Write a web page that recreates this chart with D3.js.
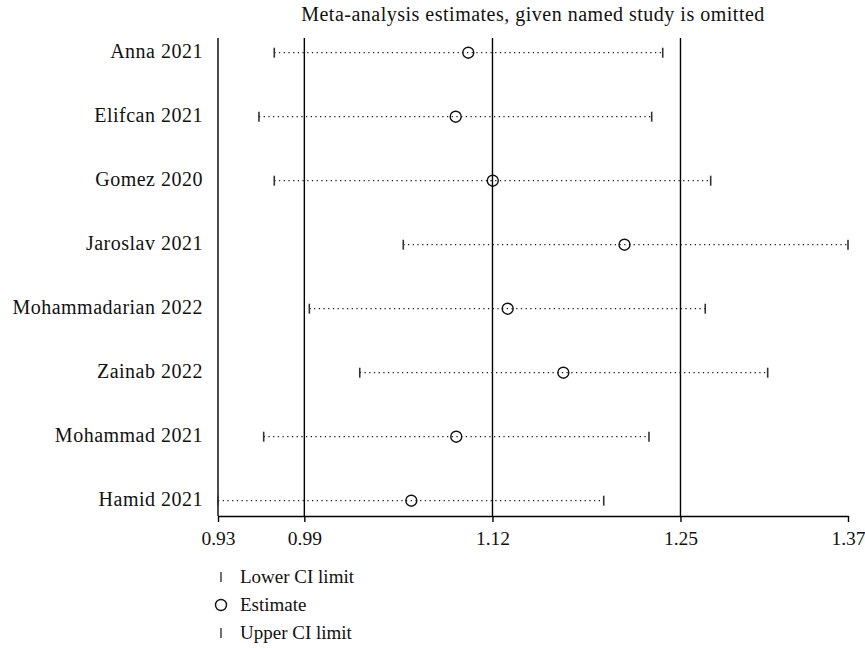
<!DOCTYPE html>
<html>
<head>
<meta charset="utf-8">
<script src="https://cdn.jsdelivr.net/npm/d3@7"></script>
<style>
  html, body { margin: 0; padding: 0; background: #fff; }
  svg { display: block; font-family: "Liberation Serif", "DejaVu Serif", serif; }
</style>
</head>
<body>
<svg id="chart" width="865" height="648"></svg>
<script>
// ---- data ----
const studies = ["Anna 2021", "Elifcan 2021", "Gomez 2020", "Jaroslav 2021",
  "Mohammadarian 2022", "Zainab 2022", "Mohammad 2021", "Hamid 2021"];
const lowerCI  = [0.9703, 0.9596, 0.9703, 1.0604, 0.9948, 1.0300, 0.9629, 0.9310];
const estimate = [1.1058, 1.0970, 1.1229, 1.2149, 1.1333, 1.1722, 1.0974, 1.0660];
const upperCI  = [1.2416, 1.2339, 1.2751, 1.3710, 1.2713, 1.3149, 1.2320, 1.2004];
// axis ticks: min lower, overall lower CI, overall estimate, overall upper CI, max upper
const tickValues = [0.931, 0.9913, 1.1227, 1.2540, 1.371];
const tickLabels = ["0.93", "0.99", "1.12", "1.25", "1.37"];
const refLines = [0.9913, 1.1227, 1.2540];
const titleText = "Meta-analysis estimates, given named study is omitted";
const legendItems = ["Lower CI limit", "Estimate", "Upper CI limit"];

const svg = d3.select("#chart");
const FS = 19;
const plotLeft = 218, plotRight = 848, plotTop = 38, axisY = 516;

const x = d3.scaleLinear().domain([tickValues[0], tickValues[4]]).range([plotLeft, plotRight]);
const y = d3.scalePoint().domain(studies).range([52.7, 500.7]);

// title
svg.append("text")
  .attr("x", (plotLeft + plotRight) / 2).attr("y", 21)
  .attr("text-anchor", "middle").attr("font-size", 20).attr("letter-spacing", 0.5)
  .attr("fill", "#111")
  .text(titleText);

// left vertical (y axis line)
svg.append("line")
  .attr("x1", plotLeft).attr("x2", plotLeft).attr("y1", plotTop).attr("y2", axisY)
  .attr("stroke", "#000").attr("stroke-width", 1.4);

// reference lines
svg.selectAll("line.ref").data(refLines).join("line").attr("class", "ref")
  .attr("x1", d => x(d)).attr("x2", d => x(d))
  .attr("y1", plotTop).attr("y2", axisY)
  .attr("stroke", "#000").attr("stroke-width", 1.4);

// study labels
svg.selectAll("text.lab").data(studies).join("text").attr("class", "lab")
  .attr("x", 203).attr("y", d => y(d) + 5)
  .attr("text-anchor", "end").attr("font-size", 20).attr("letter-spacing", 0.5)
  .attr("fill", "#111")
  .text(d => d);

const rows = studies.map((s, i) => ({ s, lo: lowerCI[i], est: estimate[i], hi: upperCI[i] }));

// dotted CI lines
svg.selectAll("line.ci").data(rows).join("line").attr("class", "ci")
  .attr("x1", d => x(d.lo)).attr("x2", d => x(d.hi))
  .attr("y1", d => y(d.s)).attr("y2", d => y(d.s))
  .attr("stroke", "#222").attr("stroke-width", 1.2)
  .attr("stroke-dasharray", "1.3,3.4");

// CI end ticks
["lo", "hi"].forEach(k => {
  svg.selectAll("line.t" + k).data(rows).join("line").attr("class", "t" + k)
    .attr("x1", d => x(d[k])).attr("x2", d => x(d[k]))
    .attr("y1", d => y(d.s) - 5).attr("y2", d => y(d.s) + 5)
    .attr("stroke", "#333").attr("stroke-width", 1.6);
});

// estimates
svg.selectAll("circle.est").data(rows).join("circle").attr("class", "est")
  .attr("cx", d => x(d.est)).attr("cy", d => y(d.s)).attr("r", 5.5)
  .attr("fill", "none").attr("stroke", "#111").attr("stroke-width", 1.4);

// x axis
const axis = d3.axisBottom(x).tickValues(tickValues)
  .tickFormat((d, i) => tickLabels[i]).tickSize(6).tickSizeOuter(0).tickPadding(9);
const gx = svg.append("g").attr("transform", `translate(0,${axisY})`).call(axis);
gx.select(".domain").attr("stroke", "#000").attr("stroke-width", 1.4);
gx.selectAll(".tick line").attr("stroke", "#000").attr("stroke-width", 1.4);
gx.selectAll(".tick text").attr("font-size", 19.5).attr("fill", "#111")
  .attr("font-family", "Liberation Serif, DejaVu Serif, serif");

// legend
const ly = [577, 605, 633];
const lx = 221;
svg.append("line").attr("x1", lx).attr("x2", lx).attr("y1", ly[0] - 5).attr("y2", ly[0] + 5)
  .attr("stroke", "#333").attr("stroke-width", 1.4);
svg.append("circle").attr("cx", lx).attr("cy", ly[1]).attr("r", 5.5)
  .attr("fill", "none").attr("stroke", "#111").attr("stroke-width", 1.4);
svg.append("line").attr("x1", lx).attr("x2", lx).attr("y1", ly[2] - 5).attr("y2", ly[2] + 5)
  .attr("stroke", "#333").attr("stroke-width", 1.4);
svg.selectAll("text.leg").data(legendItems).join("text").attr("class", "leg")
  .attr("x", 240).attr("y", (d, i) => ly[i] + 6)
  .attr("font-size", FS).attr("fill", "#111").text(d => d);
</script>
</body>
</html>
